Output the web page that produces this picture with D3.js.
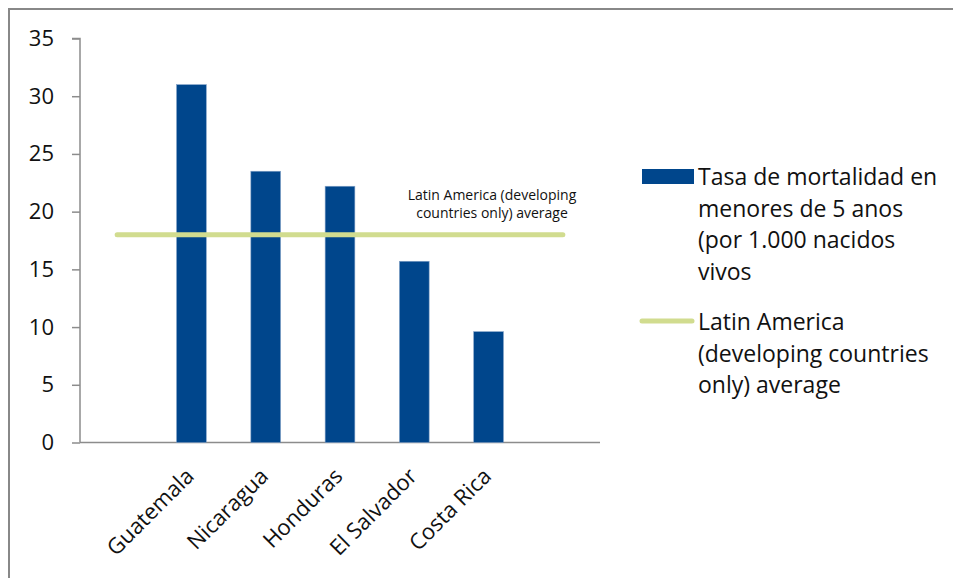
<html>
<head>
<style>
    body { margin: 0; background: #fff; }
    svg { display: block; }
    text { font-family: "Open Sans", "Noto Sans", sans-serif; fill: #111; }
</style>
<script src="https://d3js.org/d3.v7.min.js"></script>
</head>
<body>
<svg id="viz"></svg>
<script>
    var width = 953;
    var height = 578;

    // categories (blank slots at both ends, as in the original chart)
    var categories = ["", "Guatemala", "Nicaragua", "Honduras", "El Salvador", "Costa Rica", " "];
    var mortality = [null, 31, 23.5, 22.2, 15.7, 9.6, null];
    var average = [18, 18, 18, 18, 18, 18, 18];
    var yTicks = [0, 5, 10, 15, 20, 25, 30, 35];
    var barLabel = ["Tasa de mortalidad en", "menores de 5 anos", "(por 1.000 nacidos", "vivos"];
    var lineLabel = ["Latin America", "(developing countries", "only) average"];
    var avgNote = ["Latin America (developing", "countries only) average"];

    var svg = d3.select("#viz").attr("width", width).attr("height", height);

    // chart frame
    svg.append("rect")
        .attr("x", 9).attr("y", 9)
        .attr("width", width + 10).attr("height", height + 10)
        .attr("fill", "none")
        .attr("stroke", "#888")
        .attr("stroke-width", 2);

    var x = d3.scaleBand()
        .domain(categories)
        .range([80, 600])
        .paddingInner(0.6)
        .paddingOuter(0.3);

    var y = d3.scaleLinear().domain([0, 35]).range([442.5, 38.5]);

    // y axis
    var yAxis = svg.append("g")
        .attr("transform", "translate(80,0)")
        .call(d3.axisLeft(y).tickValues(yTicks).tickSize(8).tickPadding(18));
    yAxis.selectAll("line, path").attr("stroke", "#8c8c8c").attr("stroke-width", 1.5);
    yAxis.select(".domain").attr("d", "M-8," + y(35) + "H0V" + y(0));
    yAxis.selectAll("text").style("font-size", "22px").attr("fill", "#111");

    // x axis line
    svg.append("line")
        .attr("x1", 80).attr("x2", 600)
        .attr("y1", y(0)).attr("y2", y(0))
        .attr("stroke", "#8c8c8c").attr("stroke-width", 1.5);

    // bars
    var bars = categories.map(function (c, i) { return { cat: c, v: mortality[i] }; })
        .filter(function (d) { return d.v != null; });

    svg.append("g").selectAll("rect")
        .data(bars)
        .enter().append("rect")
        .attr("x", function (d) { return x(d.cat); })
        .attr("y", function (d) { return y(d.v); })
        .attr("width", x.bandwidth())
        .attr("height", function (d) { return y(0) - y(d.v); })
        .attr("fill", "#00468c")
        .attr("stroke", "#7f9fc6")
        .attr("stroke-width", 0.6);

    // x labels, rotated
    svg.append("g").selectAll("text")
        .data(bars)
        .enter().append("text")
        .attr("transform", function (d) {
            return "translate(" + (x(d.cat) + x.bandwidth() / 2 + 4) + "," + (y(0) + 35) + ") rotate(-45)";
        })
        .attr("text-anchor", "end")
        .style("font-size", "22px")
        .text(function (d) { return d.cat; });

    // average line
    var line = d3.line()
        .x(function (d, i) { return x(categories[i]) + x.bandwidth() / 2; })
        .y(function (d) { return y(d); });

    svg.append("path")
        .datum(average)
        .attr("d", line)
        .attr("fill", "none")
        .attr("stroke", "#d1dc8f")
        .attr("stroke-width", 5)
        .attr("stroke-linecap", "round");

    // average annotation
    svg.append("text")
        .attr("x", 492).attr("y", 200)
        .attr("text-anchor", "middle")
        .style("font-size", "14px")
        .selectAll("tspan")
        .data(avgNote)
        .enter().append("tspan")
        .attr("x", 492)
        .attr("dy", function (d, i) { return i ? 18 : 0; })
        .text(function (d) { return d; });

    // legend
    var legend = svg.append("g");
    legend.append("rect")
        .attr("x", 642).attr("y", 169)
        .attr("width", 52).attr("height", 15)
        .attr("fill", "#00468c");
    legend.append("text")
        .attr("x", 698).attr("y", 185)
        .style("font-size", "23px")
        .selectAll("tspan")
        .data(barLabel)
        .enter().append("tspan")
        .attr("x", 698)
        .attr("dy", function (d, i) { return i ? 31.5 : 0; })
        .text(function (d) { return d; });

    legend.append("line")
        .attr("x1", 642).attr("x2", 692)
        .attr("y1", 321).attr("y2", 321)
        .attr("stroke", "#d1dc8f")
        .attr("stroke-width", 5)
        .attr("stroke-linecap", "round");
    legend.append("text")
        .attr("x", 698).attr("y", 330)
        .style("font-size", "23px")
        .selectAll("tspan")
        .data(lineLabel)
        .enter().append("tspan")
        .attr("x", 698)
        .attr("dy", function (d, i) { return i ? 31.5 : 0; })
        .text(function (d) { return d; });
</script>
</body>
</html>
